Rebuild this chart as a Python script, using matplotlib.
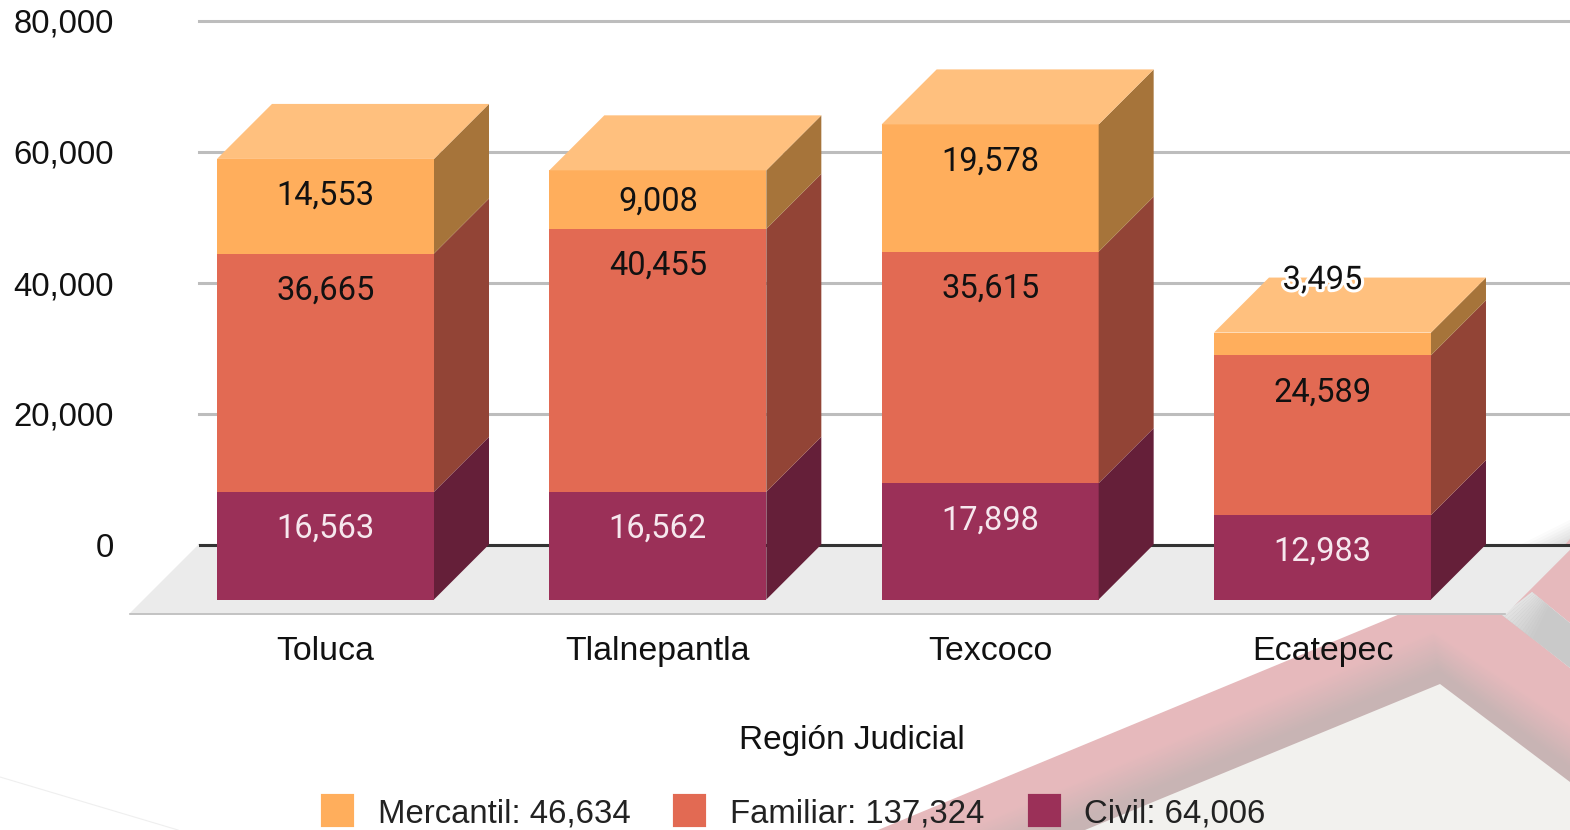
#!/usr/bin/env python
"""Stacked pseudo-3D columns by Region Judicial, over the slide's background shapes."""
import numpy as np
import matplotlib
matplotlib.use('Agg')
import matplotlib.pyplot as plt
import matplotlib.patheffects as pe
from matplotlib.patches import Polygon, Patch

regions = ['Toluca', 'Tlalnepantla', 'Texcoco', 'Ecatepec']
civil = [16563, 16562, 17898, 12983]
familiar = [36665, 40455, 35615, 24589]
mercantil = [14553, 9008, 19578, 3495]
y_ticks = [0, 20000, 40000, 60000, 80000]

W, H = 1570, 830
PITCH = 332.33            # px between columns
S = 524 / 80000           # px per unit on the back wall
S_FRONT = 0.0065          # px per unit on the front face
X0 = 325.5                # px centre of first column
BAR_W = 217 / PITCH
DX, DY = 55 / PITCH, 55 / S
BASE = -54.5 / S
FLOOR = 69 / S

COLORS = {  # front, side, top
    'Civil': ('#9b3058', '#651f39', None),
    'Familiar': ('#e26a53', '#924436', None),
    'Mercantil': ('#ffae5c', '#a6743a', '#ffc07e'),
}
TXT = '#111111'
PINK = np.array([0xe6, 0xb9, 0xbc]) / 255
SHADE = np.array([0xc8, 0xb4, 0xb4]) / 255


def px_poly(fig, pts, color):
    pts = np.array(pts, float)
    pts = np.c_[pts[:, 0] / W, 1 - pts[:, 1] / H]
    fig.patches.append(Polygon(pts, closed=True, transform=fig.transFigure,
                               facecolor=color, edgecolor='none', zorder=-5))


def background(fig):
    # slide decoration behind the chart
    for x0, g in zip(range(1520, 1570, 6), np.linspace(0.985, 0.84, 9)):
        px_poly(fig, [(x0, 545), (1570, 545 - (1570 - x0) * 0.5), (1570, 545)], str(g))
    px_poly(fig, [(1505, 614), (1570, 539), (1570, 623), (1532, 592)], PINK)
    px_poly(fig, [(878, 830), (1400, 614), (1502, 614), (1570, 668), (1570, 830)], PINK)
    # soft shadow along the inner edge, flat for the last stretch
    inner = np.array([(1085, 830), (1440, 684), (1570, 782)], float)
    outer = np.array([(960, 830), (1433, 630), (1570, 722)], float)
    for t in np.linspace(1, 0, 32)[:-1]:
        edge = inner + (outer - inner) * t
        c = SHADE + (PINK - SHADE) * min(1, max(0, (t - 0.25) / 0.75))
        px_poly(fig, [*edge, (1570, 830)], c)
    px_poly(fig, [(1085, 830), (1440, 684), (1570, 782), (1570, 830)], '#f2f1ee')
    # grey ribbon, lighter only near its lower end
    a = np.array([(1502, 615), (1532, 592)], float)
    b = np.array([(1570, 668), (1570, 623)], float)
    px_poly(fig, [a[0], a[1], b[1], b[0]], '#c9c9c9')
    fade = np.linspace(0, 0.45, 13)
    for s0, s1, g in zip(fade[:-1], fade[1:], np.linspace(0.89, 0.795, 12)):
        p0, p1 = a + (b - a) * s0, a + (b - a) * s1
        px_poly(fig, [p0[0], p0[1], p1[1], p1[0]], str(g))
    fig.add_artist(plt.Line2D([0, 178 / W], [1 - 777 / H, 0], color='#efefef', lw=0.8, zorder=-5))


def main():
    plt.rcParams['font.family'] = ['Liberation Sans', 'DejaVu Sans']
    fig = plt.figure(figsize=(W / 100, H / 100), dpi=100)
    background(fig)

    ax = fig.add_axes([199 / W, (H - 614) / H, (W - 199) / W, (614 - 21) / H])
    ax.patch.set_alpha(0)
    ax.set_xlim((199 - X0) / PITCH, (W - X0) / PITCH)
    ax.set_ylim(-FLOOR, 80000)
    for s in ax.spines.values():
        s.set_visible(False)

    ax.set_yticks(y_ticks, [f'{v:,}' for v in y_ticks])
    ax.set_xticks(range(len(regions)), regions)
    ax.tick_params(axis='y', length=0, pad=61.5, labelsize=23.7, labelcolor=TXT)
    ax.tick_params(axis='x', length=0, pad=15.5, labelsize=24.4, labelcolor=TXT)
    ax.yaxis.grid(True, color='#bdbdbd', lw=2.2, zorder=1)
    for gl in ax.get_ygridlines():
        gl.set_clip_on(False)
    ax.set_axisbelow(True)
    ax.set_xlabel('Región Judicial', fontsize=24, color=TXT, labelpad=42,
                  x=(852 - 199) / (W - 199))

    # floor
    fx = [(130 - X0) / PITCH, (1505 - X0) / PITCH, (W - X0) / PITCH, (W - X0) / PITCH, (199 - X0) / PITCH]
    ax.fill(fx, [-FLOOR, -FLOOR, -DY * 0.07, 0, 0], color='#ebebeb', clip_on=False, zorder=2)
    ax.plot(fx[:2], [-FLOOR, -FLOOR], color='#bcbcbc', lw=1.2, clip_on=False, zorder=2.1)
    ax.axhline(0, color='#333333', lw=2.2, zorder=2.2)

    # columns
    series = [('Civil', civil), ('Familiar', familiar), ('Mercantil', mercantil)]
    k = S_FRONT / S
    for i in range(len(regions)):
        base = BASE
        l, r = i - BAR_W / 2, i + BAR_W / 2
        z = 3 + i
        for name, vals in series:
            front, side, top = COLORS[name]
            h = vals[i] * k
            ax.bar(i, h, BAR_W, bottom=base, color=front, zorder=z)
            ax.fill([r, r + DX, r + DX, r], [base, base + DY, base + DY + h, base + h],
                    color=side, lw=0, zorder=z)
            base += h
            # labels sit near the inside end, short segments are handled apart
            seg_px = vals[i] * S_FRONT
            col = '#f6e8ee' if name == 'Civil' else TXT
            if seg_px >= 70:
                off = -33.5
            elif seg_px >= 30:
                off = -seg_px / 2 + 1
            else:
                off = 56
            ann = ax.annotate(f'{vals[i]:,}', (i, base), xytext=(0, off * 0.72),
                              textcoords='offset points', ha='center', va='center_baseline',
                              fontsize=23.5, family=['Roboto', 'DejaVu Sans'], color=col, zorder=20)
            if seg_px < 30:
                ann.set_path_effects([pe.withStroke(linewidth=4.5, foreground='white')])
        top_c = COLORS['Mercantil'][2]
        ax.fill([l, l + DX, r + DX, r], [base, base + DY, base + DY, base],
                color=top_c, lw=0, zorder=z)

    # thick round-joined edge gives the swatches their soft corners
    handles = [Patch(facecolor=COLORS[n][0], edgecolor=COLORS[n][0], lw=3, joinstyle='round')
               for n, _ in reversed(series)]
    labels = [f'{n}: {sum(v):,}' for n, v in reversed(series)]
    fig.legend(handles, labels, loc='lower left', bbox_to_anchor=(323 / W, 1 / H),
               ncol=3, frameon=False, fontsize=23.7, labelcolor='#222222',
               handlelength=0.88, handleheight=0.95, handletextpad=0.78,
               columnspacing=1.37, borderpad=0, borderaxespad=0)

    fig.savefig('out.png', dpi=100)
    plt.close(fig)


if __name__ == '__main__':
    main()
